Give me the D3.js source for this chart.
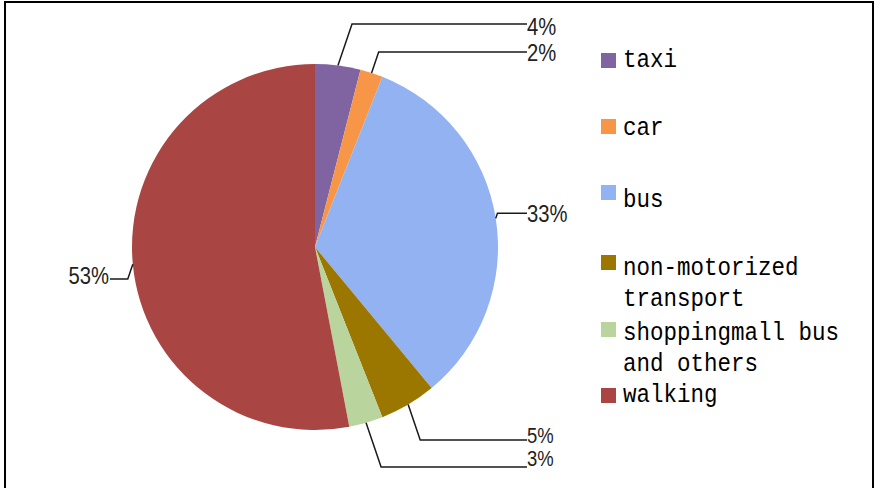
<!DOCTYPE html>
<html>
<head>
<meta charset="utf-8">
<script src="https://cdn.jsdelivr.net/npm/d3@7"></script>
<style>
  html, body { margin: 0; padding: 0; background: #fff; }
  svg { display: block; }
</style>
</head>
<body>
<svg id="chart" width="874" height="488"></svg>
<script>
// Travel mode shares (percent)
const categories = ["taxi", "car", "bus", "non-motorized transport", "shoppingmall bus and others", "walking"];
const legendLines = [["taxi"], ["car"], ["bus"], ["non-motorized", "transport"], ["shoppingmall bus", "and others"], ["walking"]];
const shares = [4, 2, 33, 5, 3, 53];
const colors = ["#8064A2", "#F79646", "#93B2F2", "#9B7700", "#B9D49D", "#A94644"];

// Label placement: leader-line end height and text height (null = follow the slice edge)
const labelLineY = [24, 52, null, 440, 467, 279];
const labelTextY = [26, 52, null, 435, 458, 275];
const labelSize = [23, 23, 23, 21, 21, 23];
// Legend row positions: swatch top and first text baseline
const legendSwatchY = [53, 119, 185, 255, 322, 388];
const legendTextY = [67, 135, 207, 275, 340, 402];

const svg = d3.select("#chart");

// outer frame
svg.append("rect")
  .attr("x", 5).attr("y", 2)
  .attr("width", 868).attr("height", 500)
  .attr("fill", "#fff")
  .attr("stroke", "#000")
  .attr("stroke-width", 2);

const cx = 315, cy = 247, r = 183;

const pie = d3.pie().sort(null).value(d => d).startAngle(0).endAngle(2 * Math.PI);
const arcs = pie(shares);
const arc = d3.arc().innerRadius(0).outerRadius(r);

const g = svg.append("g").attr("transform", `translate(${cx},${cy})`);
g.selectAll("path.slice")
  .data(arcs)
  .join("path")
  .attr("class", "slice")
  .attr("d", arc)
  .attr("fill", (d, i) => colors[i]);

// leader lines and percentage labels
const tilt = 0.34;
const rightX = cx + r + 29;
const leftX = cx - r - 22;
const fmt = d => d3.format(".0f")(d) + "%";

arcs.forEach((d, i) => {
  const a = (d.startAngle + d.endAngle) / 2;
  const sx = cx + Math.sin(a) * r;
  const sy = cy - Math.cos(a) * r;
  const right = Math.sin(a) >= 0;
  const ly = labelLineY[i] == null ? sy - 5 : labelLineY[i];
  const bx = sx + (right ? 1 : -1) * tilt * Math.abs(ly - sy);
  const endX = right ? rightX : leftX;
  svg.append("path")
    .attr("d", d3.line()([[sx, sy], [bx, ly], [endX, ly]]))
    .attr("fill", "none")
    .attr("stroke", "#1a1a1a")
    .attr("stroke-width", 1.5);
  const ty = labelTextY[i] == null ? ly : labelTextY[i];
  svg.append("text")
    .attr("transform", `translate(${right ? endX : endX - 1},${ty}) scale(0.88,1.08)`)
    .attr("dy", "0.36em")
    .attr("text-anchor", right ? "start" : "end")
    .attr("font-family", "Liberation Sans, Arial, sans-serif")
    .attr("font-size", labelSize[i])
    .attr("fill", "#222")
    .text(fmt(shares[i]));
});

// legend
const legend = svg.append("g");
categories.forEach((c, i) => {
  legend.append("rect")
    .attr("x", 601).attr("y", legendSwatchY[i])
    .attr("width", 15).attr("height", 15)
    .attr("fill", colors[i]);
  const t = legend.append("text")
    .attr("transform", `translate(623,${legendTextY[i]}) scale(0.9,1)`)
    .attr("font-family", "Liberation Mono, DejaVu Sans Mono, monospace")
    .attr("font-size", 25)
    .attr("fill", "#000");
  legendLines[i].forEach((ln, k) => {
    t.append("tspan").attr("x", 0).attr("dy", k === 0 ? 0 : 31).text(ln);
  });
});
</script>
</body>
</html>
